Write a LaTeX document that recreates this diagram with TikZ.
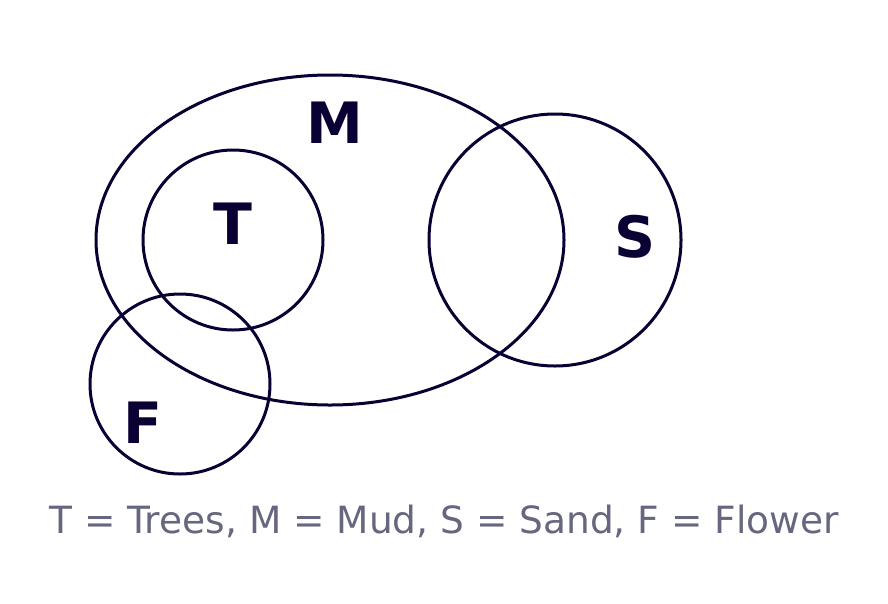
\documentclass[tikz,border=0pt]{standalone}
\usepackage{fontspec}
\setmainfont{DejaVu Sans}
\definecolor{ink}{HTML}{0A0033}
\definecolor{cap}{HTML}{66667F}
\begin{document}
\begin{tikzpicture}[x=1pt,y=-1pt,
  setline/.style={draw=ink,line width=3pt},
  setlabel/.style={text=ink,font=\fontsize{57}{60}\selectfont\bfseries,inner sep=0pt},
  caption/.style={text=cap,font=\fontsize{37.5}{42}\selectfont,inner sep=0pt}]
\useasboundingbox (0,0) rectangle (888,603);
\draw[setline] (330,240) ellipse [x radius=234, y radius=165];
\draw[setline] (233,240) circle [radius=90];
\draw[setline] (180,384) circle [radius=90];
\draw[setline] (555,240) circle [radius=126];
\node[setlabel] (m) at (335,123) {M};
\node[setlabel] (t) at (233,224) {T};
\node[setlabel] (s) at (635,237) {S};
\node[setlabel] (f) at (143,423) {F};
\node[caption] (c) at (444,521) {T = Trees, M = Mud, S = Sand, F = Flower};
\end{tikzpicture}
\end{document}
